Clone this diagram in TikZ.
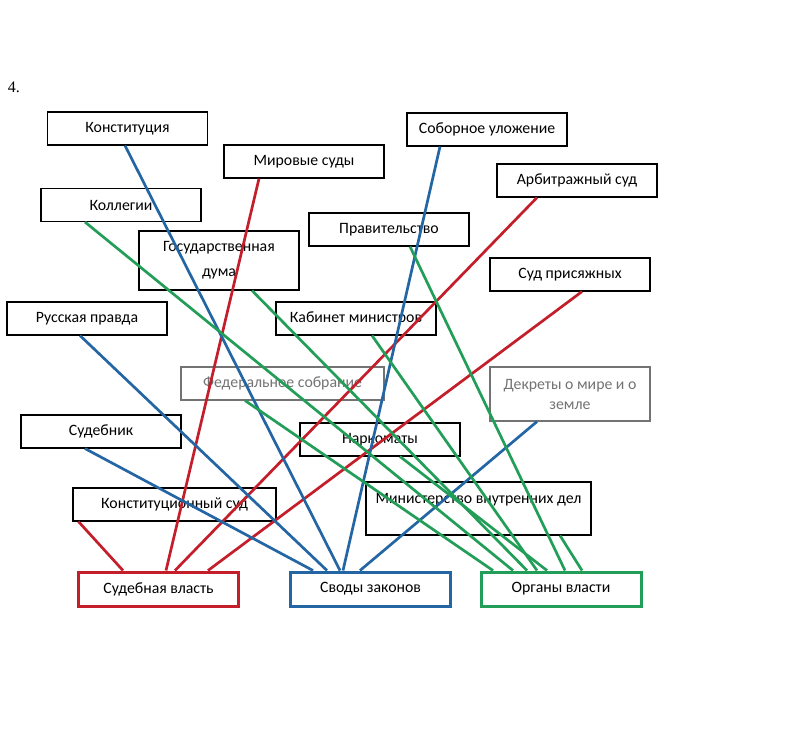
\documentclass[tikz,border=0pt]{standalone}
\usepackage{fontspec}
\setmainfont{Carlito}
\newfontfamily\numfont{Liberation Serif}
\usepackage{tikz}

\definecolor{courtred}{RGB}{196,30,42}
\definecolor{lawblue}{RGB}{36,102,164}
\definecolor{bodygreen}{RGB}{34,158,88}

\begin{document}
\begin{tikzpicture}[x=1pt, y=-1pt,
                    item/.style={rectangle, draw, line width=1.1pt, fill=white,
                                 minimum width=160pt, minimum height=33pt,
                                 inner sep=2pt, align=center},
                    faded/.style={draw=black!55, text=black!55},
                    category/.style={rectangle, draw, line width=3pt, fill=white,
                                     minimum width=160pt, minimum height=34pt},
                    court/.style={courtred, line width=2.7pt},
                    law/.style={lawblue, line width=2.7pt},
                    body/.style={bodygreen, line width=2.7pt},
                    font=\fontsize{15.8pt}{20pt}\selectfont]
  \useasboundingbox (0, 0) rectangle (805, 755);

  \node at (14, 87) [font=\numfont\fontsize{16pt}{18pt}\selectfont, name=Number] {4.};

  % Items.
  \node at (127.5, 128.5) [item, name=Konstitutsiya] {Конституция};
  \node at (304, 161.5) [item, name=MirovyeSudy] {Мировые суды};
  \node at (487, 129.5) [item, name=SobornoeUlozhenie] {Соборное уложение};
  \node at (577, 180.5) [item, name=ArbitrazhnyiSud] {Арбитражный суд};
  \node at (121, 205) [item, name=Kollegii] {Коллегии};
  \node at (389, 229.5) [item, name=Pravitelstvo] {Правительство};
  \node at (219, 260.5) [item, minimum height=59pt, name=GosDuma] {Государственная\\[5pt]дума};
  \node at (570, 274.5) [item, name=SudPrisyazhnykh] {Суд присяжных};
  \node at (87, 318.5) [item, name=RusskayaPravda] {Русская правда};
  \node at (356, 318.5) [item, name=KabinetMinistrov] {Кабинет министров};
  \node at (282.5, 383.5) [item, faded, minimum width=203pt, name=FedSobranie] {Федеральное собрание};
  \node at (570, 394) [item, faded, minimum height=54pt, name=Dekrety] {Декреты о мире и о\\земле};
  \node at (101, 431.5) [item, name=Sudebnik] {Судебник};
  \node at (380, 439.5) [item, name=Narkomaty] {Наркоматы};
  \node at (174.5, 504.5) [item, minimum width=203pt, name=KonstSud] {Конституционный суд};
  \node at (478.5, 508.5) [item, minimum width=225pt, minimum height=53pt, name=MVD]
        {Министерство внутренних дел\\\mbox{}};

  % Categories.
  \node at (158.5, 589) [category, draw=courtred, name=SudebnayaVlast] {Судебная власть};
  \node at (370.5, 589) [category, draw=lawblue, name=SvodyZakonov] {Своды законов};
  \node at (561, 589) [category, draw=bodygreen, name=OrganyVlasti] {Органы власти};

  % Judicial power.
  \draw [court] ([xshift=6pt]KonstSud.south west)
                to ([xshift=-35.5pt]SudebnayaVlast.north);
  \draw [court] ([xshift=-45pt]MirovyeSudy.south)
                to ([xshift=7.5pt]SudebnayaVlast.north);
  \draw [court] ([xshift=-40pt]ArbitrazhnyiSud.south)
                to ([xshift=16.5pt]SudebnayaVlast.north);
  \draw [court] ([xshift=12pt]SudPrisyazhnykh.south)
                to ([xshift=49.5pt]SudebnayaVlast.north);

  % Codes of laws.
  \draw [law] ([xshift=-2.5pt]Konstitutsiya.south)
              to ([xshift=-30.5pt]SvodyZakonov.north);
  \draw [law] ([xshift=-47pt]SobornoeUlozhenie.south)
              to ([xshift=-27.5pt]SvodyZakonov.north);
  \draw [law] ([xshift=-7pt]RusskayaPravda.south)
              to ([xshift=-43.5pt]SvodyZakonov.north);
  \draw [law] ([xshift=-16pt]Sudebnik.south)
              to ([xshift=-57.5pt]SvodyZakonov.north);
  \draw [law] ([xshift=-33pt]Dekrety.south)
              to ([xshift=-10.5pt]SvodyZakonov.north);

  % Bodies of power.
  \draw [body] ([xshift=-37.5pt]FedSobranie.south)
               to ([xshift=-68pt]OrganyVlasti.north);
  \draw [body] ([xshift=-36pt]Kollegii.south)
               to ([xshift=-48pt]OrganyVlasti.north);
  \draw [body] ([xshift=33pt]GosDuma.south)
               to ([xshift=-34pt]OrganyVlasti.north);
  \draw [body] ([xshift=16pt]KabinetMinistrov.south)
               to ([xshift=-24pt]OrganyVlasti.north);
  \draw [body] ([xshift=20pt]Narkomaty.south)
               to ([xshift=-14pt]OrganyVlasti.north);
  \draw [body] ([xshift=21pt]Pravitelstvo.south)
               to ([xshift=4pt]OrganyVlasti.north);
  \draw [body] ([xshift=81.5pt]MVD.south)
               to ([xshift=21pt]OrganyVlasti.north);
\end{tikzpicture}
\end{document}
